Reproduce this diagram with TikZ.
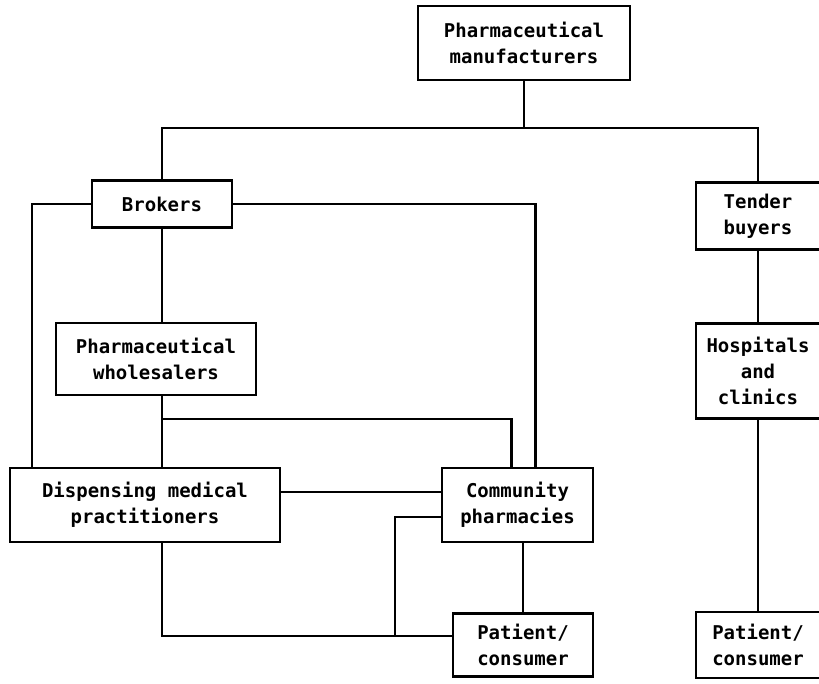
\documentclass[tikz,border=0pt]{standalone}
\usepackage{fontspec}
\newfontfamily\chartfont{DejaVu Sans Mono}
\tikzset{
  box/.style={draw, line width=2.6pt, rectangle, align=center, inner sep=0pt,
    font=\chartfont\bfseries\fontsize{19}{26}\selectfont},
  link/.style={line width=2.4pt},
}
\begin{document}
\begin{tikzpicture}[x=1pt, y=-1pt]
    \useasboundingbox (0,0) rectangle (819,683);

    % Boxes of the distribution chain
    \node[box, minimum width=212pt, minimum height=74pt] (manu) at (524, 43) {Pharmaceutical\\manufacturers};
    \node[box, minimum width=140pt, minimum height=47pt] (brokers) at (162, 204) {Brokers};
    \node[box, minimum width=200pt, minimum height=72pt] (whole) at (156, 359) {Pharmaceutical\\wholesalers};
    \node[box, minimum width=270pt, minimum height=74pt] (disp) at (145, 505) {Dispensing medical\\practitioners};
    \node[box, minimum width=151pt, minimum height=74pt] (comm) at (517.5, 505) {Community\\pharmacies};
    \node[box, minimum width=140pt, minimum height=63pt] (pat) at (523, 645) {Patient/\\consumer};

    % Right hand branch
    \node[box, minimum width=124pt, minimum height=67pt] (tender) at (758, 216) {Tender\\buyers};
    \node[box, minimum width=124pt, minimum height=95pt] (hosp) at (758, 371) {Hospitals\\and\\clinics};
    \node[box, minimum width=124pt, minimum height=66pt] (patb) at (758, 645) {Patient/\\consumer};

    % Top bus
    \coordinate (busL) at (162, 128);
    \coordinate (busR) at (758, 128);
    \draw[link] (manu.south) -- (manu.south |- busL);
    \draw[link] (brokers.north) -- (busL) -- (busR) -- (tender.north);

    % Links out of the brokers
    \draw[link] (brokers.west) -| ([xshift=23pt]disp.north west);
    \draw[link] (brokers.east) -| ([xshift=18pt]comm.north);
    \draw[link] (brokers.south) -- (brokers.south |- whole.north);

    % Wholesalers to practitioners and pharmacies
    \coordinate (split) at (162, 419);
    \draw[link] (brokers.south |- whole.south) -- (brokers.south |- disp.north);
    \draw[link] (split) -| ([xshift=-6pt]comm.north);

    % Practitioners, pharmacies and patient
    \draw[link] ([yshift=13pt]disp.east) -- ([yshift=13pt]comm.west);
    \coordinate (join) at (395, 636);
    \draw[link] ([yshift=-12pt]comm.west) -| (join);
    \draw[link] ([xshift=17pt]disp.south) |- ([yshift=9pt]pat.west);
    \draw[link] (pat.north |- comm.south) -- (pat.north);

    % Hospital chain
    \draw[link] (tender.south) -- (hosp.north);
    \draw[link] (hosp.south) -- (patb.north);
\end{tikzpicture}
\end{document}
